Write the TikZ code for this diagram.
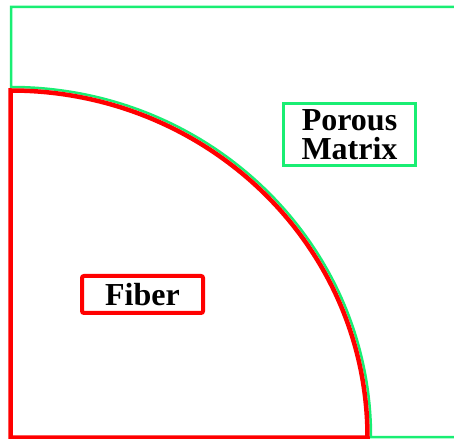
\documentclass[tikz,border=0pt]{standalone}
\usepackage{fontspec}
\setmainfont{Liberation Serif}
\usepackage{xcolor}
\usepackage{tikz}

\definecolor{matrixgreen}{RGB}{25,238,115}
\tikzset{
  labelbox/.style={line width=3pt, fill=white, align=center, inner sep=0pt,
    font=\fontsize{32}{29}\selectfont\bfseries},
}

\begin{document}
\begin{tikzpicture}[x=1pt,y=1pt]
  \useasboundingbox (0,0) rectangle (454,438);

  % porous matrix outline
  \draw[matrixgreen, line width=2.5pt] (454,431) -- (11,431) -- (11,351)
    arc[start angle=90, end angle=0, x radius=360, y radius=350] -- (460,1);

  % fiber quarter
  \draw[red, line width=4.5pt] (10.5,-5) -- (10.5,347.5)
    arc[start angle=90, end angle=0, x radius=357, y radius=347] -- (10.5,0.5);

  \node[labelbox, draw=matrixgreen, minimum width=132pt, minimum height=62pt] (matrix) at (349.5,303.5) {Porous\\Matrix};
  \node[labelbox, draw=red, line width=4pt, rounded corners=2pt, minimum width=121pt, minimum height=37pt] (fiber) at (142.5,143.5) {Fiber};
\end{tikzpicture}
\end{document}
